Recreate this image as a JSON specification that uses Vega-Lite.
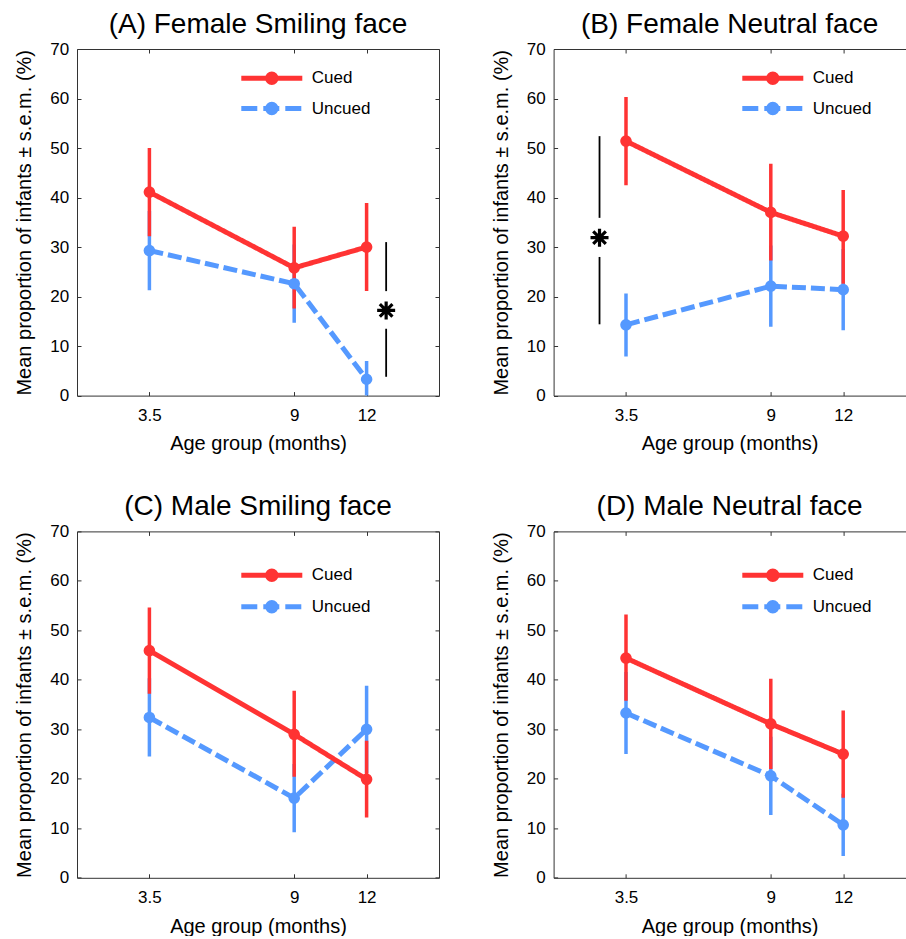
{
  "$schema": "https://vega.github.io/schema/vega-lite/v6.json",
  "background": "white",
  "padding": {"left": 14, "top": 11, "right": 0, "bottom": 0},
  "config": {
    "font": "Liberation Sans",
    "view": {"stroke": null},
    "title": {"fontSize": 28, "fontWeight": "normal", "color": "black", "offset": 1, "font": "Liberation Sans"},
    "axis": {
      "grid": false,
      "domainColor": "#333333",
      "tickColor": "#333333",
      "tickSize": -4,
      "labelColor": "black",
      "titleColor": "black",
      "labelFontSize": 17,
      "titleFontSize": 20,
      "titleFontWeight": "normal",
      "labelFont": "Liberation Sans",
      "titleFont": "Liberation Sans"
    },
    "legend": {
      "labelFontSize": 17,
      "labelColor": "black",
      "labelFont": "Liberation Sans",
      "padding": 0,
      "symbolSize": 400,
      "symbolStrokeWidth": 5,
      "labelOffset": 27.5,
      "symbolType": "M-3.05,0H3.05"
    }
  },
  "datasets": {
    "main": [
      {"panel": "A", "cond": "Uncued", "age": 3.5, "mean": 29.3, "lo": 21.3, "hi": 37.3},
      {"panel": "A", "cond": "Uncued", "age": 9, "mean": 22.6, "lo": 14.7, "hi": 30.5},
      {"panel": "A", "cond": "Uncued", "age": 12, "mean": 3.3, "lo": -0.4, "hi": 7.0},
      {"panel": "A", "cond": "Cued", "age": 3.5, "mean": 41.1, "lo": 32.2, "hi": 50.0},
      {"panel": "A", "cond": "Cued", "age": 9, "mean": 25.8, "lo": 17.6, "hi": 34.1},
      {"panel": "A", "cond": "Cued", "age": 12, "mean": 30.0, "lo": 21.1, "hi": 38.9},
      {"panel": "B", "cond": "Uncued", "age": 3.5, "mean": 14.3, "lo": 7.9, "hi": 20.6},
      {"panel": "B", "cond": "Uncued", "age": 9, "mean": 22.1, "lo": 13.9, "hi": 30.3},
      {"panel": "B", "cond": "Uncued", "age": 12, "mean": 21.4, "lo": 13.2, "hi": 29.6},
      {"panel": "B", "cond": "Cued", "age": 3.5, "mean": 51.4, "lo": 42.5, "hi": 60.3},
      {"panel": "B", "cond": "Cued", "age": 9, "mean": 37.0, "lo": 27.3, "hi": 46.8},
      {"panel": "B", "cond": "Cued", "age": 12, "mean": 32.2, "lo": 22.6, "hi": 41.5},
      {"panel": "C", "cond": "Uncued", "age": 3.5, "mean": 32.4, "lo": 24.5, "hi": 40.3},
      {"panel": "C", "cond": "Uncued", "age": 9, "mean": 16.1, "lo": 9.2, "hi": 23.0},
      {"panel": "C", "cond": "Uncued", "age": 12, "mean": 30.0, "lo": 21.2, "hi": 38.8},
      {"panel": "C", "cond": "Cued", "age": 3.5, "mean": 45.9, "lo": 37.2, "hi": 54.6},
      {"panel": "C", "cond": "Cued", "age": 9, "mean": 29.0, "lo": 20.4, "hi": 37.8},
      {"panel": "C", "cond": "Cued", "age": 12, "mean": 19.9, "lo": 12.2, "hi": 27.7},
      {"panel": "D", "cond": "Uncued", "age": 3.5, "mean": 33.3, "lo": 25.0, "hi": 41.6},
      {"panel": "D", "cond": "Uncued", "age": 9, "mean": 20.6, "lo": 12.7, "hi": 28.5},
      {"panel": "D", "cond": "Uncued", "age": 12, "mean": 10.7, "lo": 4.4, "hi": 17.0},
      {"panel": "D", "cond": "Cued", "age": 3.5, "mean": 44.4, "lo": 35.8, "hi": 53.2},
      {"panel": "D", "cond": "Cued", "age": 9, "mean": 31.1, "lo": 22.0, "hi": 40.2},
      {"panel": "D", "cond": "Cued", "age": 12, "mean": 25.0, "lo": 16.2, "hi": 33.8}
    ],
    "sigline": [
      {"panel": "A", "x": 13.08, "y1": 31.0, "y2": 21.1},
      {"panel": "A", "x": 13.08, "y1": 13.5, "y2": 3.8},
      {"panel": "B", "x": 2.22, "y1": 52.4, "y2": 35.9},
      {"panel": "B", "x": 2.22, "y1": 28.0, "y2": 14.4}
    ],
    "sigstar": [
      {"panel": "A", "x": 13.08, "y": 17.2},
      {"panel": "B", "x": 2.22, "y": 31.9}
    ]
  },
  "columns": 2,
  "spacing": {"row": 135.4, "column": 114.6},
  "bounds": "flush",
  "resolve": {"legend": {"color": "independent"}},
  "concat": [
    {
      "title": "(A) Female Smiling face",
      "width": 362, "height": 346.6,
      "resolve": {"axis": {"x": "independent", "y": "independent"}},
      "layer": [
        {
          "data": {"name": "main"},
          "transform": [{"filter": "datum.panel === 'A'"}],
          "mark": {"type": "rule", "strokeWidth": 3.5, "clip": true},
          "encoding": {
            "x": {"field": "age", "type": "quantitative", "scale": {"domain": [0, 3.5, 9, 12, 15], "range": [0, 72.4, 217.2, 289.6, 362]}, "axis": {"values": [3.5, 9, 12], "format": "~g", "title": "Age group (months)", "labelPadding": 15.5, "titlePadding": 10.7}},
            "y": {"field": "lo", "type": "quantitative", "scale": {"domain": [0, 70]}, "axis": {"values": [0, 10, 20, 30, 40, 50, 60, 70], "title": "Mean proportion of infants ± s.e.m. (%)", "labelPadding": 12.4, "titlePadding": 15}},
            "y2": {"field": "hi"},
            "color": {"field": "cond", "type": "nominal", "scale": {"domain": ["Cued", "Uncued"], "range": ["#FF3333", "#5599FF"]},
              "legend": {"title": null, "orient": "none", "legendX": 182.3, "legendY": 16.8, "rowPadding": 1.2,
                "encode": {"symbols": {"update": {"shape": {"signal": "datum.value === 'Cued' ? 'M-3.05,0H3.05M-0.42,0A0.42,0.42,0,1,1,0.42,0A0.42,0.42,0,1,1,-0.42,0' : 'M-3.05,0H-1.45M-0.85,0H0.75M1.35,0H2.95M-0.42,0A0.42,0.42,0,1,1,0.42,0A0.42,0.42,0,1,1,-0.42,0'"}, "fill": {"signal": "datum.value === 'Cued' ? '#FF3333' : '#5599FF'"}, "stroke": {"signal": "datum.value === 'Cued' ? '#FF3333' : '#5599FF'"}, "strokeWidth": {"value": 5}, "opacity": {"value": 1}, "fillOpacity": {"value": 1}}}}}}
          }
        },
        {
          "data": {"name": "main"},
          "transform": [{"filter": "datum.panel === 'A'"}],
          "mark": {"type": "line", "strokeWidth": 5},
          "encoding": {
            "x": {"field": "age", "type": "quantitative", "axis": null},
            "y": {"field": "mean", "type": "quantitative", "axis": null},
            "color": {"field": "cond", "type": "nominal"},
            "strokeDash": {"field": "cond", "type": "nominal", "scale": {"domain": ["Cued", "Uncued"], "range": [[1, 0], [14, 5]]}, "legend": null}
          }
        },
        {
          "data": {"name": "main"},
          "transform": [{"filter": "datum.panel === 'A'"}],
          "mark": {"type": "point", "filled": true, "size": 135, "opacity": 1},
          "encoding": {
            "x": {"field": "age", "type": "quantitative", "axis": {"orient": "top", "labels": false, "title": null, "values": [3.5, 9, 12]}},
            "y": {"field": "mean", "type": "quantitative", "axis": {"orient": "right", "labels": false, "title": null, "values": [0, 10, 20, 30, 40, 50, 60, 70]}},
            "color": {"field": "cond", "type": "nominal"}
          }
        },
        {
          "data": {"name": "sigline"},
          "transform": [{"filter": "datum.panel === 'A'"}],
          "mark": {"type": "rule", "color": "black", "strokeWidth": 1.8},
          "encoding": {
            "x": {"field": "x", "type": "quantitative", "axis": null},
            "y": {"field": "y1", "type": "quantitative", "axis": null},
            "y2": {"field": "y2"}
          }
        },
        {
          "data": {"name": "sigstar"},
          "transform": [{"filter": "datum.panel === 'A'"}],
          "mark": {"type": "point", "shape": "M0,-1V1M-1,0H1M-0.7,-0.7L0.7,0.7M-0.7,0.7L0.7,-0.7", "size": 324, "stroke": "black", "strokeWidth": 3.2, "filled": false, "opacity": 1},
          "encoding": {
            "x": {"field": "x", "type": "quantitative", "axis": null},
            "y": {"field": "y", "type": "quantitative", "axis": null}
          }
        }
      ]
    },
    {
      "title": "(B) Female Neutral face",
      "width": 352, "height": 346.6,
      "resolve": {"axis": {"x": "independent", "y": "independent"}},
      "layer": [
        {
          "data": {"name": "main"},
          "transform": [{"filter": "datum.panel === 'B'"}],
          "mark": {"type": "rule", "strokeWidth": 3.5, "clip": true},
          "encoding": {
            "x": {"field": "age", "type": "quantitative", "scale": {"domain": [0, 3.5, 9, 12, 14.5856], "range": [0, 72.4, 217.2, 289.6, 352]}, "axis": {"values": [3.5, 9, 12], "format": "~g", "title": "Age group (months)", "labelPadding": 15.5, "titlePadding": 10.7}},
            "y": {"field": "lo", "type": "quantitative", "scale": {"domain": [0, 70]}, "axis": {"values": [0, 10, 20, 30, 40, 50, 60, 70], "title": "Mean proportion of infants ± s.e.m. (%)", "labelPadding": 12.4, "titlePadding": 15}},
            "y2": {"field": "hi"},
            "color": {"field": "cond", "type": "nominal", "scale": {"domain": ["Cued", "Uncued"], "range": ["#FF3333", "#5599FF"]},
              "legend": {"title": null, "orient": "none", "legendX": 206.7, "legendY": 16.8, "rowPadding": 1.2,
                "encode": {"symbols": {"update": {"shape": {"signal": "datum.value === 'Cued' ? 'M-3.05,0H3.05M-0.42,0A0.42,0.42,0,1,1,0.42,0A0.42,0.42,0,1,1,-0.42,0' : 'M-3.05,0H-1.45M-0.85,0H0.75M1.35,0H2.95M-0.42,0A0.42,0.42,0,1,1,0.42,0A0.42,0.42,0,1,1,-0.42,0'"}, "fill": {"signal": "datum.value === 'Cued' ? '#FF3333' : '#5599FF'"}, "stroke": {"signal": "datum.value === 'Cued' ? '#FF3333' : '#5599FF'"}, "strokeWidth": {"value": 5}, "opacity": {"value": 1}, "fillOpacity": {"value": 1}}}}}}
          }
        },
        {
          "data": {"name": "main"},
          "transform": [{"filter": "datum.panel === 'B'"}],
          "mark": {"type": "line", "strokeWidth": 5},
          "encoding": {
            "x": {"field": "age", "type": "quantitative", "axis": null},
            "y": {"field": "mean", "type": "quantitative", "axis": null},
            "color": {"field": "cond", "type": "nominal"},
            "strokeDash": {"field": "cond", "type": "nominal", "scale": {"domain": ["Cued", "Uncued"], "range": [[1, 0], [14, 5]]}, "legend": null}
          }
        },
        {
          "data": {"name": "main"},
          "transform": [{"filter": "datum.panel === 'B'"}],
          "mark": {"type": "point", "filled": true, "size": 135, "opacity": 1},
          "encoding": {
            "x": {"field": "age", "type": "quantitative", "axis": {"orient": "top", "labels": false, "title": null, "values": [3.5, 9, 12]}},
            "y": {"field": "mean", "type": "quantitative", "axis": null},
            "color": {"field": "cond", "type": "nominal"}
          }
        },
        {
          "data": {"name": "sigline"},
          "transform": [{"filter": "datum.panel === 'B'"}],
          "mark": {"type": "rule", "color": "black", "strokeWidth": 1.8},
          "encoding": {
            "x": {"field": "x", "type": "quantitative", "axis": null},
            "y": {"field": "y1", "type": "quantitative", "axis": null},
            "y2": {"field": "y2"}
          }
        },
        {
          "data": {"name": "sigstar"},
          "transform": [{"filter": "datum.panel === 'B'"}],
          "mark": {"type": "point", "shape": "M0,-1V1M-1,0H1M-0.7,-0.7L0.7,0.7M-0.7,0.7L0.7,-0.7", "size": 324, "stroke": "black", "strokeWidth": 3.2, "filled": false, "opacity": 1},
          "encoding": {
            "x": {"field": "x", "type": "quantitative", "axis": null},
            "y": {"field": "y", "type": "quantitative", "axis": null}
          }
        }
      ]
    },
    {
      "title": "(C) Male Smiling face",
      "width": 362, "height": 346.4,
      "resolve": {"axis": {"x": "independent", "y": "independent"}},
      "layer": [
        {
          "data": {"name": "main"},
          "transform": [{"filter": "datum.panel === 'C'"}],
          "mark": {"type": "rule", "strokeWidth": 3.5, "clip": true},
          "encoding": {
            "x": {"field": "age", "type": "quantitative", "scale": {"domain": [0, 3.5, 9, 12, 15], "range": [0, 72.4, 217.2, 289.6, 362]}, "axis": {"values": [3.5, 9, 12], "format": "~g", "title": "Age group (months)", "labelPadding": 15.5, "titlePadding": 10.7}},
            "y": {"field": "lo", "type": "quantitative", "scale": {"domain": [0, 70]}, "axis": {"values": [0, 10, 20, 30, 40, 50, 60, 70], "title": "Mean proportion of infants ± s.e.m. (%)", "labelPadding": 12.4, "titlePadding": 15}},
            "y2": {"field": "hi"},
            "color": {"field": "cond", "type": "nominal", "scale": {"domain": ["Cued", "Uncued"], "range": ["#FF3333", "#5599FF"]},
              "legend": {"title": null, "orient": "none", "legendX": 182.3, "legendY": 31.4, "rowPadding": 2.4,
                "encode": {"symbols": {"update": {"shape": {"signal": "datum.value === 'Cued' ? 'M-3.05,0H3.05M-0.42,0A0.42,0.42,0,1,1,0.42,0A0.42,0.42,0,1,1,-0.42,0' : 'M-3.05,0H-1.45M-0.85,0H0.75M1.35,0H2.95M-0.42,0A0.42,0.42,0,1,1,0.42,0A0.42,0.42,0,1,1,-0.42,0'"}, "fill": {"signal": "datum.value === 'Cued' ? '#FF3333' : '#5599FF'"}, "stroke": {"signal": "datum.value === 'Cued' ? '#FF3333' : '#5599FF'"}, "strokeWidth": {"value": 5}, "opacity": {"value": 1}, "fillOpacity": {"value": 1}}}}}}
          }
        },
        {
          "data": {"name": "main"},
          "transform": [{"filter": "datum.panel === 'C'"}],
          "mark": {"type": "line", "strokeWidth": 5},
          "encoding": {
            "x": {"field": "age", "type": "quantitative", "axis": null},
            "y": {"field": "mean", "type": "quantitative", "axis": null},
            "color": {"field": "cond", "type": "nominal"},
            "strokeDash": {"field": "cond", "type": "nominal", "scale": {"domain": ["Cued", "Uncued"], "range": [[1, 0], [14, 5]]}, "legend": null}
          }
        },
        {
          "data": {"name": "main"},
          "transform": [{"filter": "datum.panel === 'C'"}],
          "mark": {"type": "point", "filled": true, "size": 135, "opacity": 1},
          "encoding": {
            "x": {"field": "age", "type": "quantitative", "axis": {"orient": "top", "labels": false, "title": null, "values": [3.5, 9, 12]}},
            "y": {"field": "mean", "type": "quantitative", "axis": {"orient": "right", "labels": false, "title": null, "values": [0, 10, 20, 30, 40, 50, 60, 70]}},
            "color": {"field": "cond", "type": "nominal"}
          }
        }
      ]
    },
    {
      "title": "(D) Male Neutral face",
      "width": 352, "height": 346.4,
      "resolve": {"axis": {"x": "independent", "y": "independent"}},
      "layer": [
        {
          "data": {"name": "main"},
          "transform": [{"filter": "datum.panel === 'D'"}],
          "mark": {"type": "rule", "strokeWidth": 3.5, "clip": true},
          "encoding": {
            "x": {"field": "age", "type": "quantitative", "scale": {"domain": [0, 3.5, 9, 12, 14.5856], "range": [0, 72.4, 217.2, 289.6, 352]}, "axis": {"values": [3.5, 9, 12], "format": "~g", "title": "Age group (months)", "labelPadding": 15.5, "titlePadding": 10.7}},
            "y": {"field": "lo", "type": "quantitative", "scale": {"domain": [0, 70]}, "axis": {"values": [0, 10, 20, 30, 40, 50, 60, 70], "title": "Mean proportion of infants ± s.e.m. (%)", "labelPadding": 12.4, "titlePadding": 15}},
            "y2": {"field": "hi"},
            "color": {"field": "cond", "type": "nominal", "scale": {"domain": ["Cued", "Uncued"], "range": ["#FF3333", "#5599FF"]},
              "legend": {"title": null, "orient": "none", "legendX": 206.7, "legendY": 31.4, "rowPadding": 2.4,
                "encode": {"symbols": {"update": {"shape": {"signal": "datum.value === 'Cued' ? 'M-3.05,0H3.05M-0.42,0A0.42,0.42,0,1,1,0.42,0A0.42,0.42,0,1,1,-0.42,0' : 'M-3.05,0H-1.45M-0.85,0H0.75M1.35,0H2.95M-0.42,0A0.42,0.42,0,1,1,0.42,0A0.42,0.42,0,1,1,-0.42,0'"}, "fill": {"signal": "datum.value === 'Cued' ? '#FF3333' : '#5599FF'"}, "stroke": {"signal": "datum.value === 'Cued' ? '#FF3333' : '#5599FF'"}, "strokeWidth": {"value": 5}, "opacity": {"value": 1}, "fillOpacity": {"value": 1}}}}}}
          }
        },
        {
          "data": {"name": "main"},
          "transform": [{"filter": "datum.panel === 'D'"}],
          "mark": {"type": "line", "strokeWidth": 5},
          "encoding": {
            "x": {"field": "age", "type": "quantitative", "axis": null},
            "y": {"field": "mean", "type": "quantitative", "axis": null},
            "color": {"field": "cond", "type": "nominal"},
            "strokeDash": {"field": "cond", "type": "nominal", "scale": {"domain": ["Cued", "Uncued"], "range": [[1, 0], [14, 5]]}, "legend": null}
          }
        },
        {
          "data": {"name": "main"},
          "transform": [{"filter": "datum.panel === 'D'"}],
          "mark": {"type": "point", "filled": true, "size": 135, "opacity": 1},
          "encoding": {
            "x": {"field": "age", "type": "quantitative", "axis": {"orient": "top", "labels": false, "title": null, "values": [3.5, 9, 12]}},
            "y": {"field": "mean", "type": "quantitative", "axis": null},
            "color": {"field": "cond", "type": "nominal"}
          }
        }
      ]
    }
  ]
}
